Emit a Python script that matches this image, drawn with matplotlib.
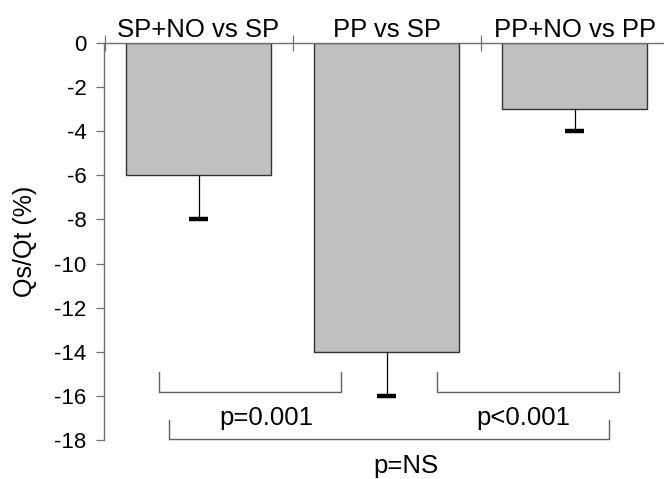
import matplotlib
matplotlib.use("Agg")
import matplotlib.pyplot as plt

plt.rcParams['font.family'] = ['Liberation Sans', 'DejaVu Sans']

categories = ["SP+NO vs SP", "PP vs SP", "PP+NO vs PP"]
values = [-6, -14, -3]
errors = [2, 2, 1]
yticks = [0, -2, -4, -6, -8, -10, -12, -14, -16, -18]
brackets = [(-0.21, 0.76, -14.9, -15.82), (1.27, 2.236, -14.9, -15.82), (-0.156, 2.183, -17.09, -17.95)]
p_labels = ["p=0.001", "p<0.001", "p=NS"]
p_pos = [(0.36, -17.3), (1.727, -17.3), (1.10, -19.5)]

W, H = 664, 479
fig = plt.figure(figsize=(W / 100, H / 100), dpi=100)
ax = fig.add_axes([104.5 / W, (H - 440) / H, 1 - 104.5 / W, (440 - 43) / H])

x = list(range(len(categories)))
ax.bar(x, values, width=0.77, color='#c0c0c0', edgecolor='#333333', linewidth=1.0, zorder=2)

lows = [v - e for v, e in zip(values, errors)]
cap_half = 0.05
ax.vlines(x, values, lows, colors='black', linewidth=0.9, zorder=3)
ax.hlines(lows, [xi - cap_half for xi in x], [xi + cap_half for xi in x],
          colors='black', linewidth=3.2, zorder=3)

ax.set_xlim(-0.5, 2.475)
ax.set_ylim(-18, 0)
ax.set_yticks(yticks)
ax.set_yticklabels([str(t) for t in yticks], fontsize=16)
ax.tick_params(axis='y', direction='out', length=6, width=0.9, color='#707070', pad=7)

for s in ['right', 'bottom']:
    ax.spines[s].set_visible(False)
ax.spines['left'].set_color('#707070')
ax.spines['top'].set_color('#707070')
ax.spines['left'].set_linewidth(1.0)
ax.spines['top'].set_linewidth(1.0)

ax.xaxis.set_ticks_position('top')
ax.set_xticks([-0.5, 0.5, 1.5])
ax.set_xticklabels([])
ax.tick_params(axis='x', direction='inout', length=11.5, width=0.9, color='#707070')

for xi, lab in zip(x, categories):
    ax.text(xi, 0.27, lab, ha='center', va='baseline', fontsize=18.5, clip_on=False)

for (x0, x1, yt, yb) in brackets:
    ax.plot([x0, x0, x1, x1], [yt, yb, yb, yt], color='#606060', lw=1.0, clip_on=False, zorder=1)

for lab, (px, py) in zip(p_labels, p_pos):
    ax.text(px, py, lab, ha='center', va='baseline', fontsize=18.5, clip_on=False)

fig.text(25 / W, 1 - 241 / H, "Qs/Qt (%)", rotation=90, ha='center', va='center', fontsize=18)

fig.savefig("out.png", dpi=100)
